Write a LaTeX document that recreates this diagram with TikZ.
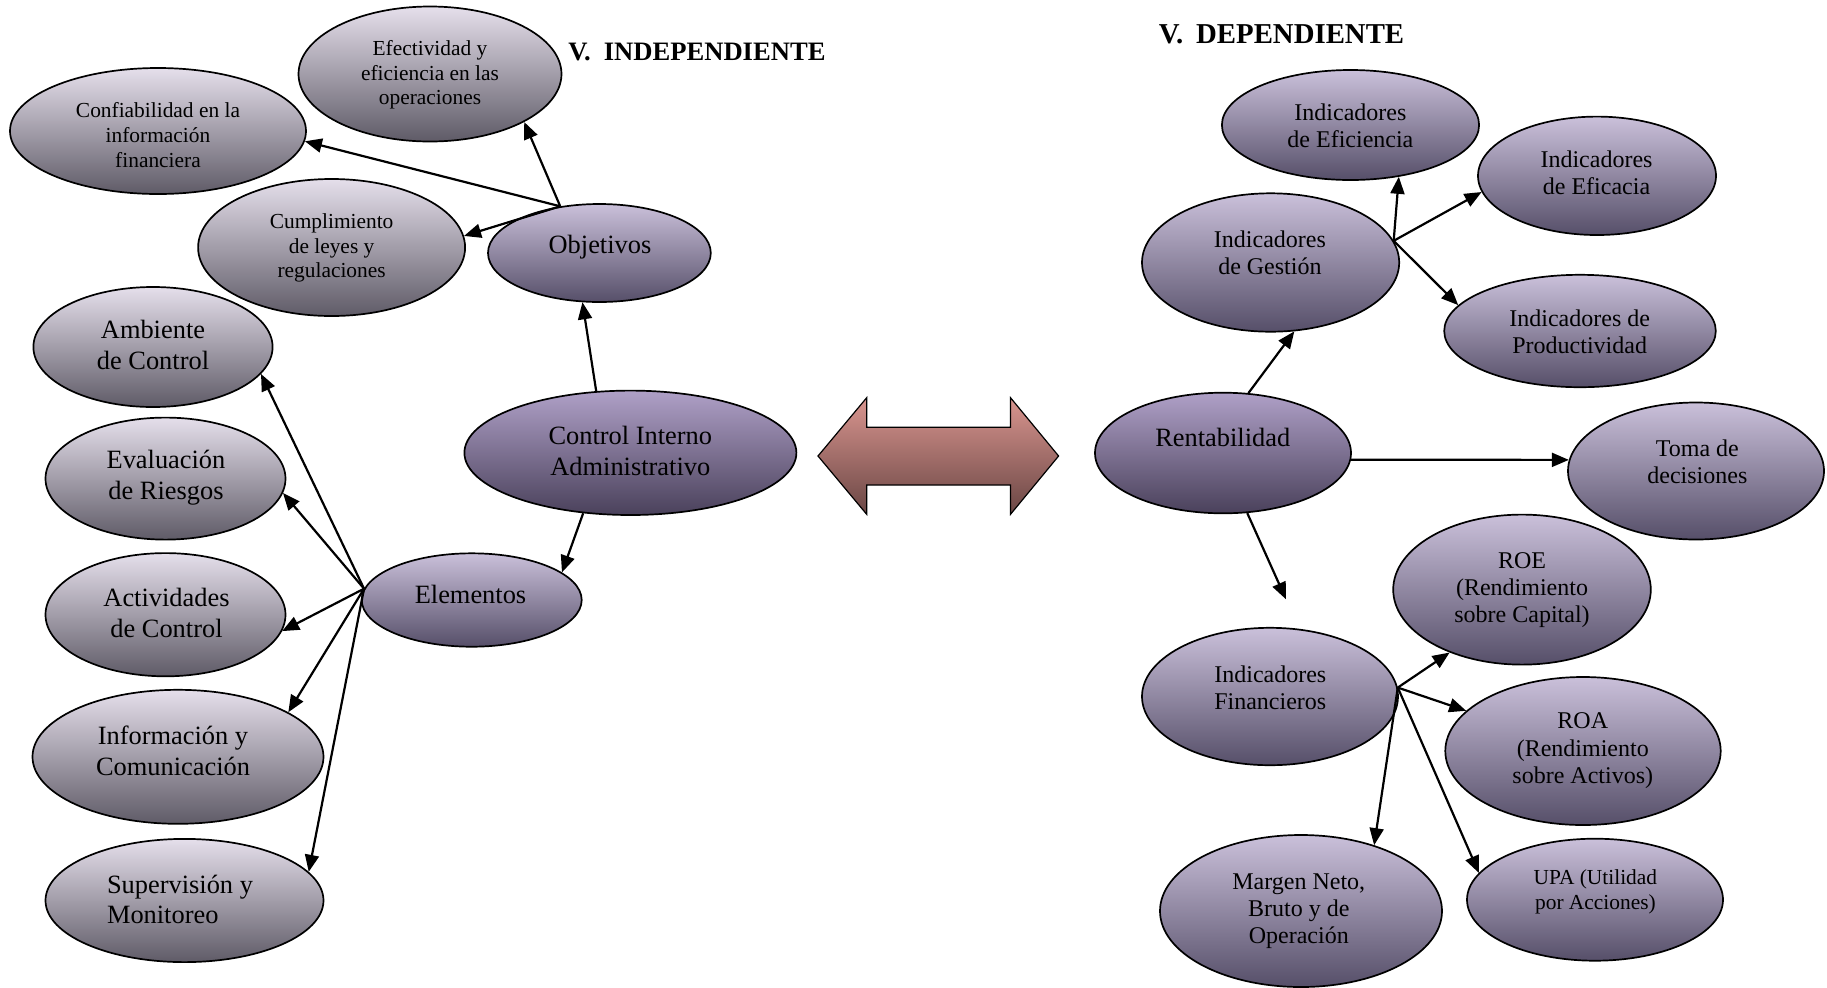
\documentclass[tikz,border=0pt]{standalone}
\usepackage{fontspec}
\setmainfont{Liberation Serif}
\usetikzlibrary{arrows.meta,shapes.geometric}

% oval fills
\definecolor{gTop}{HTML}{E5DFEB}
\definecolor{gMid}{HTML}{B5AFBD}
\definecolor{gBot}{HTML}{5F5B67}
\definecolor{pTop}{HTML}{CAC0DA}
\definecolor{pMid}{HTML}{9E94AE}
\definecolor{pBot}{HTML}{564F69}
\definecolor{dTop}{HTML}{AFA0C7}
\definecolor{dMid}{HTML}{8B7EA2}
\definecolor{dBot}{HTML}{4A415B}
% double arrow fill
\definecolor{aTop}{HTML}{D9958F}
\definecolor{aMid}{HTML}{A86F6B}
\definecolor{aBot}{HTML}{6A4644}

\newcommand\szBig{\fontsize{13.2}{15.4}\selectfont}
\newcommand\szMid{\fontsize{12}{13.6}\selectfont}
\newcommand\szSmall{\fontsize{10.7}{12.3}\selectfont}

\begin{document}
\begin{tikzpicture}[x=0.5pt,y=-0.5pt,
  oval/.style={ellipse, draw=black, line width=0.85pt, inner sep=0pt},
  dims/.style 2 args={minimum width=#1pt, minimum height=#2pt},
  grayoval/.style={oval, top color=gTop, middle color=gMid, bottom color=gBot},
  violetoval/.style={oval, top color=pTop, middle color=pMid, bottom color=pBot},
  deepoval/.style={oval, top color=dTop, middle color=dMid, bottom color=dBot},
  txt/.style={inner sep=0pt, align=center, text=black},
  bigtxt/.style={txt, font=\szBig},
  midtxt/.style={txt, font=\szMid},
  smalltxt/.style={txt, font=\szSmall},
  conn/.style={draw=black, line width=1.1pt, -{Triangle[length=8.5pt,width=7pt]}},
  heading/.style={inner sep=0pt, anchor=base west, font=\bfseries}
]
\useasboundingbox (0,0) rectangle (1827,987);

% ---------- independent variable ----------
\node[grayoval, dims={131.5}{67.5}] (eff)  at (430,74) {};
\node[grayoval, dims={148}{63}]     (conf) at (158,131) {};
\node[grayoval, dims={133.5}{68.5}] (cump) at (331.6,247.5) {};
\node[violetoval, dims={111.4}{49}] (obj)  at (599.4,253) {};
\node[grayoval, dims={119.6}{60}]   (amb)  at (153,347) {};
\node[grayoval, dims={120}{61}]     (eval) at (165.5,478.6) {};
\node[grayoval, dims={120}{61.6}]   (act)  at (165.5,614.7) {};
\node[grayoval, dims={145.5}{67}]   (info) at (178,756.8) {};
\node[grayoval, dims={139}{61.6}]   (sup)  at (184.5,900.5) {};
\node[deepoval, dims={166}{62.2}]   (ctrl) at (630.4,452.8) {};
\node[violetoval, dims={110}{46.7}] (ele)  at (471.7,600) {};

\node[smalltxt] (effT)  at (430,75) {Efectividad y\\eficiencia en las\\operaciones};
\node[smalltxt] (confT) at (158,135) {Confiabilidad en la\\información\\financiera};
\node[smalltxt] (cumpT) at (331.6,248) {Cumplimiento\\de leyes y\\regulaciones};
\node[bigtxt]   (objT)  at (600,247) {Objetivos};
\node[bigtxt]   (ambT)  at (153,345) {Ambiente\\de Control};
\node[bigtxt]   (evalT) at (166,478) {Evaluación\\de Riesgos};
\node[bigtxt]   (actT)  at (166.5,613) {Actividades\\de Control};
\node[bigtxt]   (infoT) at (173,751) {Información y\\Comunicación};
\node[bigtxt, align=left] (supT) at (180,899.5) {Supervisión y\\Monitoreo};
\node[bigtxt]   (ctrlT) at (630.3,451) {Control Interno\\Administrativo};
\node[bigtxt]   (eleT)  at (470.5,594) {Elementos};

\node[heading, font=\bfseries\fontsize{13.3}{15}\selectfont] (indep) at (568,60)
  {V.\hspace{6.5pt}INDEPENDIENTE};

% ---------- double arrow between both variables ----------
\path[draw=black, line width=0.6pt, top color=aTop, middle color=aMid, bottom color=aBot]
  (818,456) -- (866.7,397.7) -- (866.7,427.3) -- (1010.5,427.3) -- (1010.5,397.7)
  -- (1058.6,456) -- (1010.5,514.3) -- (1010.5,485) -- (866.7,485) -- (866.7,514.3) -- cycle;

% ---------- dependent variable ----------
\node[deepoval, dims={128}{60.3}]      (rent) at (1223,453) {};
\node[violetoval, dims={128.6}{55}]    (effi) at (1350.5,125) {};
\node[violetoval, dims={119}{59.2}]    (efca) at (1597,175.8) {};
\node[violetoval, dims={128.6}{69.2}]  (ges)  at (1270.6,262.5) {};
\node[violetoval, dims={135.8}{56.2}]  (prod) at (1580,331) {};
\node[violetoval, dims={128}{68.5}]    (toma) at (1696,471) {};
\node[violetoval, dims={128.8}{75}]    (roe)  at (1522,589.6) {};
\node[violetoval, dims={128}{68.7}]    (fin)  at (1270,696.5) {};
\node[violetoval, dims={137.7}{74}]    (roa)  at (1583,751) {};
\node[violetoval, dims={141}{76}]      (mar)  at (1301,911) {};
\node[violetoval, dims={128}{61}]      (upa)  at (1595,899.7) {};

\node[bigtxt] (rentT) at (1222.8,437) {Rentabilidad};
\node[midtxt] (effiT) at (1350.4,125.5) {Indicadores\\de Eficiencia};
\node[midtxt] (efcaT) at (1596.5,172.7) {Indicadores\\de Eficacia};
\node[midtxt] (gesT)  at (1269.9,253) {Indicadores\\de Gestión};
\node[midtxt] (prodT) at (1579.7,331.7) {Indicadores de\\Productividad};
\node[midtxt] (tomaT) at (1697.4,462) {Toma de\\decisiones};
\node[midtxt] (roeT)  at (1522,590) {ROE\\(Rendimiento\\sobre Capital)};
\node[midtxt] (finT)  at (1270.3,687.6) {Indicadores\\Financieros};
\node[midtxt] (roaT)  at (1582.8,750.7) {ROA\\(Rendimiento\\sobre Activos)};
\node[midtxt] (marT)  at (1298.8,911) {Margen Neto,\\Bruto y de\\Operación};
\node[smalltxt] (upaT) at (1595.4,892) {UPA (Utilidad\\por Acciones)};

\node[heading, font=\bfseries\fontsize{14.4}{16}\selectfont] (dep) at (1158.5,43.3)
  {V.\hspace{6.5pt}DEPENDIENTE};

\coordinate (finIn) at (1286,599.3);

% ---------- connectors ----------
\draw[conn] (obj.130) -- (eff.-27);
\draw[conn] (obj.130) -- (conf.-4);
\draw[conn] (obj.130) -- (cump.5);
\draw[conn] (ctrl.119) -- (obj.251);
\draw[conn] (ctrl.232) -- (ele.17);
\draw[conn] (ele.174) -- (amb.-14);
\draw[conn] (ele.174) -- (eval.-7);
\draw[conn] (ele.174) -- (act.-8);
\draw[conn] (ele.174) -- (info.22);
\draw[conn] (ele.174) -- (sup.13);

\draw[conn] (rent.67) -- (ges.-71);
\draw[conn] (ges.10) -- (effi.-47);
\draw[conn] (ges.10) -- (efca.188);
\draw[conn] (ges.10) -- (prod.168);
\draw[conn] (rent.-3) -- (toma.175);
\draw[conn] (rent.-68) -- (finIn);
\draw[conn] (fin.4) -- (roe.221);
\draw[conn] (fin.4) -- (roa.161);
\draw[conn] (fin.4) -- (mar.42);
\draw[conn] (fin.4) -- (upa.167);
\end{tikzpicture}
\end{document}
